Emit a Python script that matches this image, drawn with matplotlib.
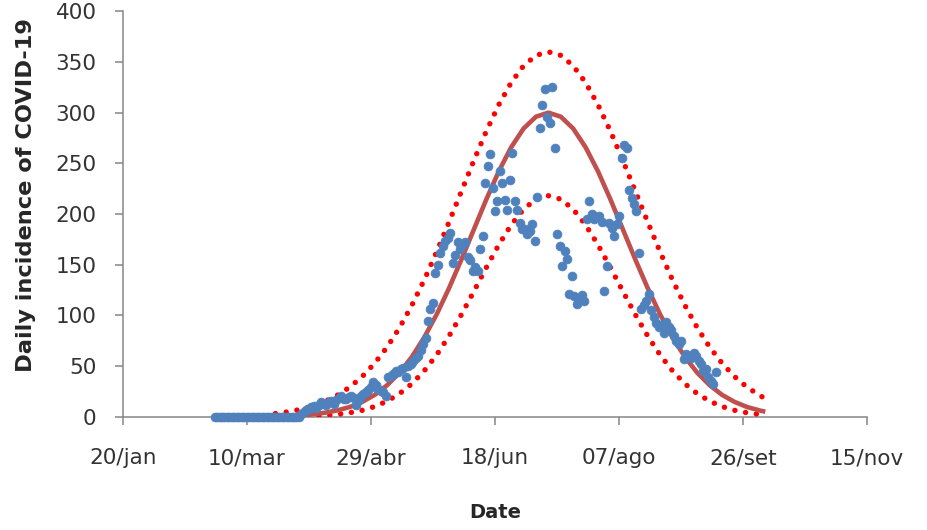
import numpy as np
import matplotlib
matplotlib.use("Agg")
import matplotlib.pyplot as plt

# x axis in days counted from 20/jan
tick_days = [0, 50, 100, 150, 200, 250, 300]
tick_labels = ["20/jan", "10/mar", "29/abr", "18/jun", "07/ago", "26/set", "15/nov"]

# observed daily cases, one value per day starting at day 37 (26/fev)
first_day = 37
daily_cases = [0] * 35 + [
    3, 5, 7, 8, 10, 11, 9, 12, 14, 13,
    12, 14, 15, 13, 16, 18, 20, 17, 17, 19,
    20, 18, 12, 16, 20, 22, 24, 26, 29, 34,
    31, 27, 25, 24, 20, 39, 40, 42, 45, 44,
    47, 48, 39, 50, 52, 55, 58, 60, 66, 72,
    78, 94, 106, 112, 142, 150, 162, 168, 173, 176,
    181, 152, 160, 172, 165, 170, 172, 158, 155, 144,
    148, 144, 165, 178, 231, 247, 259, 226, 203, 213,
    242, 231, 214, 204, 234, 260, 213, 204, 191, 185,
    185, 180, 183, 190, 173, 217, 285, 308, 323, 296,
    290, 325, 265, 180, 168, 149, 163, 156, 121, 139,
    119, 111, 116, 120, 114, 195, 213, 200, 195, 197,
    198, 192, 124, 149, 191, 186, 178, 190, 198, 255,
    268, 265, 224, 216, 210, 203, 162, 106, 110, 114,
    121, 105, 98, 92, 88, 90, 83, 93, 88, 86,
    80, 75, 72, 75, 57, 62, 60, 58, 63, 60,
    55, 52, 45, 47, 39, 35, 32, 44,
]

# fitted curve and its band
fit_days = [61.5, 66.5, 71.5, 76.5, 81.5, 86.5,
            91.5, 96.5, 101.5, 106.5, 111.5, 116.5, 121.5, 126.5, 131.5, 136.5,
            141.5, 146.5, 151.5, 156.5, 161.5, 166.5, 171.5, 176.5, 181.5, 186.5,
            191.5, 196.5, 201.5, 206.5, 211.5, 216.5, 221.5, 226.5, 231.5, 236.5,
            241.5, 246.5, 251.5, 256.5, 258]
fit_mid = [0.5, 0.8, 1.4, 2.3, 3.9, 6.2,
           9.6, 14.6, 21.5, 31.0, 43.3, 59.0, 78.3, 101.0, 127.0, 155.3,
           184.9, 214.4, 242.0, 265.8, 284.3, 296.0, 300.0, 296.0, 284.3, 265.8,
           242.0, 214.4, 184.9, 155.3, 127.0, 101.0, 78.3, 59.0, 43.3, 31.0,
           21.5, 14.6, 9.6, 6.2, 5.4]
fit_upper = [3.1, 4.8, 7.1, 10.4, 15.0, 21.2,
             29.2, 39.6, 52.7, 68.6, 87.7, 109.9, 135.0, 162.7, 192.2, 222.6,
             252.9, 281.7, 307.7, 329.6, 346.2, 356.5, 360.0, 356.5, 346.2, 329.6,
             307.7, 281.7, 252.9, 222.6, 192.2, 162.7, 135.0, 109.9, 87.7, 68.6,
             52.7, 39.6, 29.2, 21.2, 19.1]
fit_lower = [0.1, 0.2, 0.4, 0.8, 1.3, 2.3,
             3.9, 6.3, 10.0, 15.3, 22.7, 32.5, 45.3, 61.0, 79.7, 100.9,
             123.8, 147.2, 169.5, 189.2, 204.7, 214.6, 218.0, 214.6, 204.7, 189.2,
             169.5, 147.2, 123.8, 100.9, 79.7, 61.0, 45.3, 32.5, 22.7, 15.3,
             10.0, 6.3, 3.9, 2.3, 2.0]

days = np.arange(first_day, first_day + len(daily_cases))

fig = plt.figure(figsize=(9.27, 5.3), dpi=100)
ax = fig.add_axes([0.1324, 0.2138, 0.8032, 0.7649])

dots = (0, (0.01, 2.0))
ax.plot(fit_days, fit_upper, color="#ff0000", lw=3.9, linestyle=dots,
        dash_capstyle="round", zorder=2)
ax.plot(fit_days, fit_lower, color="#ff0000", lw=3.9, linestyle=dots,
        dash_capstyle="round", zorder=2)
ax.plot(fit_days, fit_mid, color="#c0504d", lw=3.3, zorder=3)
ax.plot(days, daily_cases, linestyle="none", marker="o", ms=6.4,
        color="#4f81bd", mec="#4f81bd", mew=0.5, zorder=4, clip_on=False)

ax.set_xlim(0, 300)
ax.set_ylim(0, 400)
ax.set_xticks(tick_days)
ax.set_xticklabels(tick_labels)
ax.set_yticks(range(0, 401, 50))

for s in ["top", "right"]:
    ax.spines[s].set_visible(False)
for s in ["left", "bottom"]:
    ax.spines[s].set_color("#868686")
    ax.spines[s].set_linewidth(1.1)
    ax.spines[s].set_zorder(1)

ax.tick_params(axis="both", direction="out", length=5.8, width=1.1,
               color="#868686", labelcolor="#333333", labelsize=15.5)
ax.tick_params(axis="x", pad=17)
ax.tick_params(axis="y", pad=13)

ax.set_xlabel("Date", fontsize=14, fontweight="bold", color="#262626", va="center")
ax.xaxis.set_label_coords(0.5, -0.237)
ax.set_ylabel("Daily incidence of COVID-19", fontsize=16.2, fontweight="bold",
              color="#262626", va="center")
ax.yaxis.set_label_coords(-0.13, 0.547)

fig.savefig("out.png", dpi=100)
